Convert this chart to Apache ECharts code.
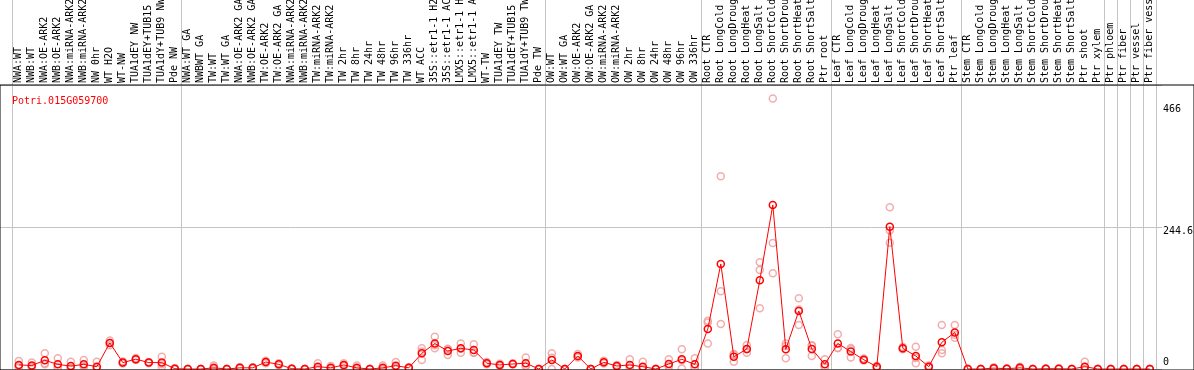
<!DOCTYPE html>
<html>
<head>
<meta charset="utf-8">
<script src="https://cdn.jsdelivr.net/npm/echarts@6/dist/echarts.min.js"></script>
<style>
  html, body { margin: 0; padding: 0; background: #fff; }
  #chart { width: 1194px; height: 370px; }
</style>
</head>
<body>
<div id="chart"></div>
<script>
const geneName = "Potri.015G059700";

const categories = [
    "NWA:WT", "NWB:WT", "NWA:OE-ARK2", "NWB:OE-ARK2", "NWA:miRNA-ARK2", "NWB:miRNA-ARK2",
    "NW 0hr", "WT H2O", "WT-NW", "TUA1dEY NW", "TUA1dEY+TUB15 NW", "TUA1dY+TUB9 NW", "Pde NW",
    "NWA:WT GA", "NWBWT GA", "TW:WT", "TW:WT GA", "NWA:OE-ARK2 GA", "NWB:OE-ARK2 GA",
    "TW:OE-ARK2", "TW:OE-ARK2 GA", "NWA:miRNA-ARK2", "NWB:miRNA-ARK2", "TW:miRNA-ARK2",
    "TW:miRNA-ARK2", "TW 2hr", "TW 8hr", "TW 24hr", "TW 48hr", "TW 96hr", "TW 336hr",
    "WT ACC", "35S::etr1-1 H2O", "35S::etr1-1 ACC", "LMX5::etr1-1 H2O", "LMX5::etr1-1 ACC",
    "WT-TW", "TUA1dEY TW", "TUA1dEY+TUB15 TW", "TUA1dY+TUB9 TW", "Pde TW",
    "OW:WT", "OW:WT GA", "OW:OE-ARK2", "OW:OE-ARK2 GA", "OW:miRNA-ARK2", "OW:miRNA-ARK2",
    "OW 2hr", "OW 8hr", "OW 24hr", "OW 48hr", "OW 96hr", "OW 336hr",
    "Root CTR", "Root LongCold", "Root LongDrought", "Root LongHeat", "Root LongSalt",
    "Root ShortCold", "Root ShortDrought", "Root ShortHeat", "Root ShortSalt", "Ptr root",
    "Leaf CTR", "Leaf LongCold", "Leaf LongDrought", "Leaf LongHeat", "Leaf LongSalt",
    "Leaf ShortCold", "Leaf ShortDrought", "Leaf ShortHeat", "Leaf ShortSalt", "Ptr leaf",
    "Stem CTR", "Stem LongCold", "Stem LongDrought", "Stem LongHeat", "Stem LongSalt",
    "Stem ShortCold", "Stem ShortDrought", "Stem ShortHeat", "Stem ShortSalt", "Ptr shoot",
    "Ptr xylem", "Ptr phloem", "Ptr fiber", "Ptr vessel", "Ptr fiber vessel"
];

// mean expression per sample
const meanValues = [
    7, 6, 15, 8, 5, 8, 4, 45, 11, 17, 11, 11, 0.5,
    0, 0, 2, 0, 2, 2, 12, 8, 0.5, 0, 4, 2, 7, 2, 0, 2, 5.7, 2,
    27, 44, 31, 35.6, 32.7, 10, 7, 8.6, 10, 0,
    15.5, 0, 22.4, 0, 11.5, 5.2, 6.9, 4, 0, 8.6, 16.7, 8,
    69, 181, 21, 34.5, 153, 282.6, 34, 100, 34.5, 8,
    44, 30, 16, 4, 245, 35.6, 22.4, 4, 46, 63,
    0, 0, 1.5, 0.5, 2, 0, 0.5, 0.5, 0, 4, 0,
    0, 0, 0, 0
];

// replicates
const repA = [
    13.8, 11, 27, 18.4, 12.6, 15.5, 12.6, 49, 13, 19, 12, 21, 1.5,
    0, 0, 6, 0, 3, 3, 14, 10, 1, 0, 10, 5, 10, 6, 0, 6, 12, 3,
    35.6, 55.7, 35, 44, 42.5, 12, 9, 10, 20, 0,
    27, 0, 26, 0, 14, 7, 16.7, 12.6, 0, 16.7, 34, 18.4,
    83, 332, 25.8, 41.3, 184, 466, 44, 121.8, 41, 16.7,
    60, 34, 18, 5, 278.6, 38, 38.4, 6, 75.8, 75.8,
    0, 0, 3, 1, 4, 0, 1, 1, 0, 12.6, 0,
    0, 0, 0, 0
];
const repB = [
    2, 3, 10, 3, 2, 5, 0, 45, 10, 16, 11, 4, 0,
    0, 0, 0, 0, 2, 2, 12, 8, 0, 0, 1, 1, 6, 0, 0, 0, 3, 2,
    15.5, 35.6, 24, 28, 28, 10, 7, 8, 5, 0,
    0, 0, 20, 0, 11, 5, 2, 0, 0, 5, 1, 3,
    80, 134, 12.6, 28, 170.6, 217, 18.4, 75.8, 22.4, 4,
    36, 20, 15, 3, 217.6, 35, 9.8, 4, 32.7, 54,
    0, 0, 1, 0.5, 2, 0, 0.5, 0.5, 0, 0, 0,
    0, 0, 0, 0
];
const repC = [
    5, 4, 8, 3, 1, 4, 0, 41, 10, 16, 10, 8, 0,
    0, 0, 0, 0, 1, 1, 10, 6, 0.5, 0, 1, 0, 5, 0, 0, 0, 2, 1,
    30, 41, 34, 35, 28, 8, 5, 8, 5, 0,
    19.5, 0, 21, 0, 9.5, 3.6, 2, 0, 0, 4, 15, 2.6,
    44, 77.5, 24.6, 34.2, 104.6, 165, 39.6, 102.4, 40.1, 3.3,
    36, 36, 15, 1, 238.8, 34, 19, 2, 27, 59.2,
    0, 0, 0.5, 0, 0, 0, 0, 0, 0, 0, 0,
    0, 0, 0, 0
];

// first sample index of each group (separator lines)
const groupStarts = [0, 13, 41, 53, 63, 73, 84, 85, 86, 87];

const yMax = 489.3;
const yMid = 244.65;
const yTop = 466;

const FONT = "DejaVu Sans Mono";
const GRID_LINE = "#c4c4c4";

const chart = echarts.init(document.getElementById("chart"));

const catLeft = 12.3;
const catWidth = categories.length * 13;

function repData(arr) {
    return arr.map((v, i) => [i, v]);
}

chart.setOption({
    animation: false,
    backgroundColor: "#fff",

    title: {
        text: geneName,
        left: 7,
        top: 91,
        textStyle: { color: "#ff0000", fontFamily: FONT, fontSize: 10, fontWeight: "normal" }
    },

    grid: [
        { left: 0, right: 0, top: 85, bottom: 0, outerBoundsMode: "none", show: true, borderColor: "#000", borderWidth: 1, backgroundColor: "transparent", z: 5 }, // frame
        { left: 0, right: 32, top: 85, bottom: 1, outerBoundsMode: "none" },                 // value lines
        { left: catLeft, width: catWidth, top: 85, bottom: 1, outerBoundsMode: "none" },     // data
        { left: catLeft, width: catWidth, top: 0, height: 85, outerBoundsMode: "none" }      // header
    ],

    xAxis: [
        { type: "value", gridIndex: 0, show: false },
        { type: "value", gridIndex: 1, show: false },
        {
            type: "category", gridIndex: 2, data: categories, position: "top",
            boundaryGap: true,
            axisLine: { show: false }, axisTick: { show: false },
            axisLabel: { interval: 0, rotate: 90, margin: 2, color: "#000", fontFamily: FONT, fontSize: 10 },
            splitLine: { show: true, interval: (i) => groupStarts.includes(i), lineStyle: { color: GRID_LINE, width: 1 } }
        },
        {
            type: "category", gridIndex: 3, data: categories, boundaryGap: true,
            axisLine: { show: false }, axisTick: { show: false }, axisLabel: { show: false },
            splitLine: { show: true, interval: (i) => groupStarts.includes(i), lineStyle: { color: GRID_LINE, width: 1 } }
        }
    ],

    yAxis: [
        { type: "value", gridIndex: 0, show: false },
        {
            type: "value", gridIndex: 1, position: "right", min: 0, max: yMax, interval: yMid,
            axisLine: { show: false }, axisTick: { show: false },
            splitLine: { show: true, lineStyle: { color: GRID_LINE, width: 1 } },
            axisLabel: {
                margin: 1, color: "#000", fontFamily: FONT, fontSize: 10,
                formatter: (v) => {
                    if (v === 0) return "{lo|0}";
                    if (Math.abs(v - yMid) < 0.01) return "{mid|244.6}";
                    return "";
                },
                rich: {
                    lo: { fontFamily: FONT, fontSize: 10, color: "#000", padding: [0, 0, 14, 0] },
                    mid: { fontFamily: FONT, fontSize: 10, color: "#000", padding: [8, 0, 0, 0] }
                }
            }
        },
        {
            type: "value", gridIndex: 1, position: "right", min: 0, max: yMax, interval: yTop,
            axisLine: { show: false }, axisTick: { show: false }, splitLine: { show: false },
            axisLabel: {
                margin: 1, color: "#000", fontFamily: FONT, fontSize: 10,
                formatter: (v) => (v === yTop ? "{hi|" + yTop + "}" : ""),
                rich: { hi: { fontFamily: FONT, fontSize: 10, color: "#000", padding: [22, 0, 0, 0] } }
            }
        },
        { type: "value", gridIndex: 2, min: 0, max: yMax, show: false },
        { type: "value", gridIndex: 3, show: false }
    ],

    series: [
        ...[repA, repB, repC].map((rep) => ({
            type: "scatter",
            xAxisIndex: 2,
            yAxisIndex: 3,
            data: repData(rep),
            symbol: "circle",
            symbolSize: 7,
            clip: false,
            itemStyle: { color: "rgba(0,0,0,0)", borderColor: "#ef9a9a", borderWidth: 1.5 },
            z: 2
        })),
        {
            name: "mean",
            type: "line",
            xAxisIndex: 2,
            yAxisIndex: 3,
            data: meanValues,
            symbol: "circle",
            symbolSize: 7,
            showSymbol: true,
            clip: false,
            lineStyle: { color: "#ff0000", width: 1 },
            itemStyle: { color: "rgba(0,0,0,0)", borderColor: "#ff0000", borderWidth: 1.5 },
            z: 3
        }
    ]
});
</script>
</body>
</html>
